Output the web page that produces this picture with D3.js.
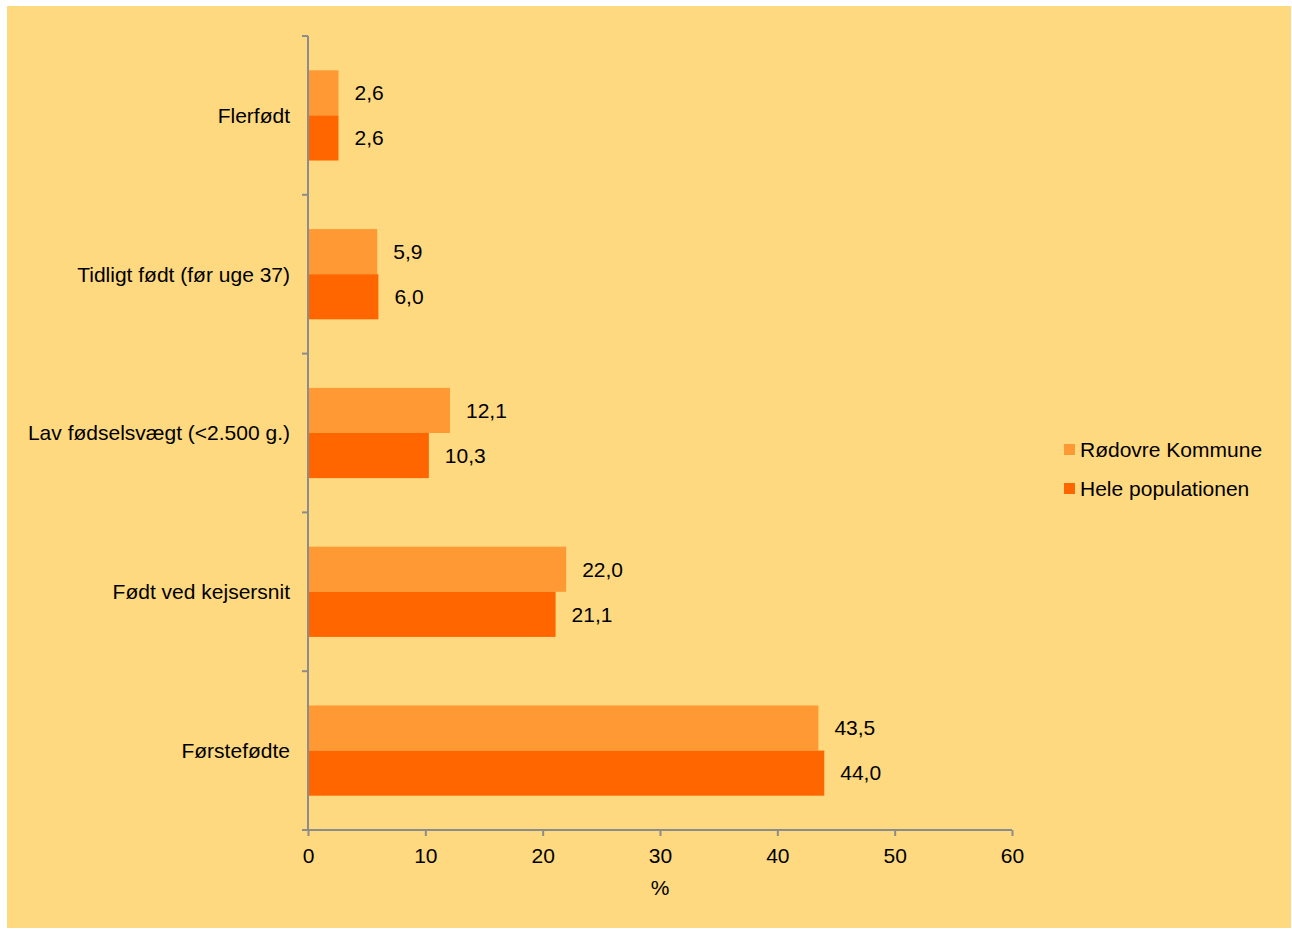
<!DOCTYPE html>
<html>
<head>
<meta charset="utf-8">
<script src="https://cdn.jsdelivr.net/npm/d3@7"></script>
<style>
  body { margin: 0; background: #fff; }
  svg text { font-family: "Liberation Sans", Arial, sans-serif; fill: #000; }
</style>
</head>
<body>
<div id="viz"></div>
<script>
var categories = ["Flerfødt", "Tidligt født (før uge 37)", "Lav fødselsvægt (<2.500 g.)", "Født ved kejsersnit", "Førstefødte"];
var rodovre = [2.6, 5.9, 12.1, 22.0, 43.5];
var hele = [2.6, 6.0, 10.3, 21.1, 44.0];
var seriesNames = ["Rødovre Kommune", "Hele populationen"];
var xTicks = [0, 10, 20, 30, 40, 50, 60];

var W = 1292, H = 929;
var margin = { top: 36, left: 308, right: 280, bottom: 99 };
var width = 1012 - margin.left,
    height = 830 - margin.top;
var colors = ["#FF9933", "#FF6600"];
var fs = '21px';

var svg = d3.select('#viz').append('svg')
  .attr('width', W)
  .attr('height', H);

svg.append('rect')
  .attr('x', 7).attr('y', 6)
  .attr('width', 1284).attr('height', 922)
  .attr('fill', '#FED980');

var g = svg.append('g')
  .attr('transform', 'translate(' + margin.left + ',' + margin.top + ')');

var xScale = d3.scaleLinear().domain([0, 60]).range([0, width]);
var yScale = d3.scaleBand().domain(categories).range([0, height]);
var inner = d3.scaleBand().domain([0, 1]).range([0, yScale.bandwidth()]).paddingOuter(0.76).paddingInner(0);

var data = categories.map(function(c, i) {
  return { cat: c, vals: [rodovre[i], hele[i]] };
});

var groups = g.selectAll('.grp').data(data)
  .enter().append('g')
  .attr('transform', function(d) { return 'translate(0,' + yScale(d.cat) + ')'; });

groups.selectAll('rect').data(function(d) { return d.vals; })
  .enter().append('rect')
  .attr('x', 0)
  .attr('y', function(d, i) { return inner(i); })
  .attr('width', function(d) { return xScale(d); })
  .attr('height', inner.bandwidth())
  .attr('fill', function(d, i) { return colors[i]; });

groups.selectAll('text.val').data(function(d) { return d.vals; })
  .enter().append('text')
  .attr('class', 'val')
  .attr('x', function(d) { return xScale(d) + 16; })
  .attr('y', function(d, i) { return inner(i) + inner.bandwidth() / 2; })
  .attr('dy', '0.35em')
  .style('font-size', fs)
  .text(function(d) { return d.toFixed(1).replace('.', ','); });

// category labels
g.selectAll('text.cat').data(categories)
  .enter().append('text')
  .attr('class', 'cat')
  .attr('x', -18)
  .attr('y', function(d) { return yScale(d) + yScale.bandwidth() / 2; })
  .attr('dy', '0.35em')
  .attr('text-anchor', 'end')
  .style('font-size', fs)
  .text(function(d) { return d; });

// y axis with ticks at band boundaries
var axisColor = '#8C8C8C';
g.append('line')
  .attr('x1', 0).attr('x2', 0).attr('y1', 0).attr('y2', height)
  .attr('stroke', axisColor).attr('stroke-width', 2);
var bounds = categories.map(function(c) { return yScale(c); }).concat([height]);
g.selectAll('line.ytick').data(bounds)
  .enter().append('line')
  .attr('x1', -6).attr('x2', 0)
  .attr('y1', function(d) { return d; }).attr('y2', function(d) { return d; })
  .attr('stroke', axisColor).attr('stroke-width', 2);

// x axis
var xAxis = d3.axisBottom(xScale).tickValues(xTicks).tickSize(6).tickSizeOuter(0).tickPadding(12);
var xg = g.append('g')
  .attr('transform', 'translate(0,' + height + ')')
  .call(xAxis);
xg.select('.domain').attr('stroke', axisColor).attr('stroke-width', 2).attr('d', 'M-6,0H' + width);
xg.selectAll('.tick line').attr('stroke', axisColor).attr('stroke-width', 2);
xg.selectAll('.tick text').style('font-size', fs).style('font-family', '"Liberation Sans", Arial, sans-serif').attr('fill', '#000');

g.append('text')
  .attr('x', xScale(30))
  .attr('y', height + 65)
  .attr('text-anchor', 'middle')
  .style('font-size', fs)
  .text('%');

// legend
var legend = svg.append('g').attr('transform', 'translate(1064,450)');
seriesNames.forEach(function(name, i) {
  legend.append('rect')
    .attr('x', 0).attr('y', i * 39 - 6)
    .attr('width', 11).attr('height', 11)
    .attr('fill', colors[i]);
  legend.append('text')
    .attr('x', 16).attr('y', i * 39)
    .attr('dy', '0.35em')
    .style('font-size', fs)
    .text(name);
});
</script>
</body>
</html>
